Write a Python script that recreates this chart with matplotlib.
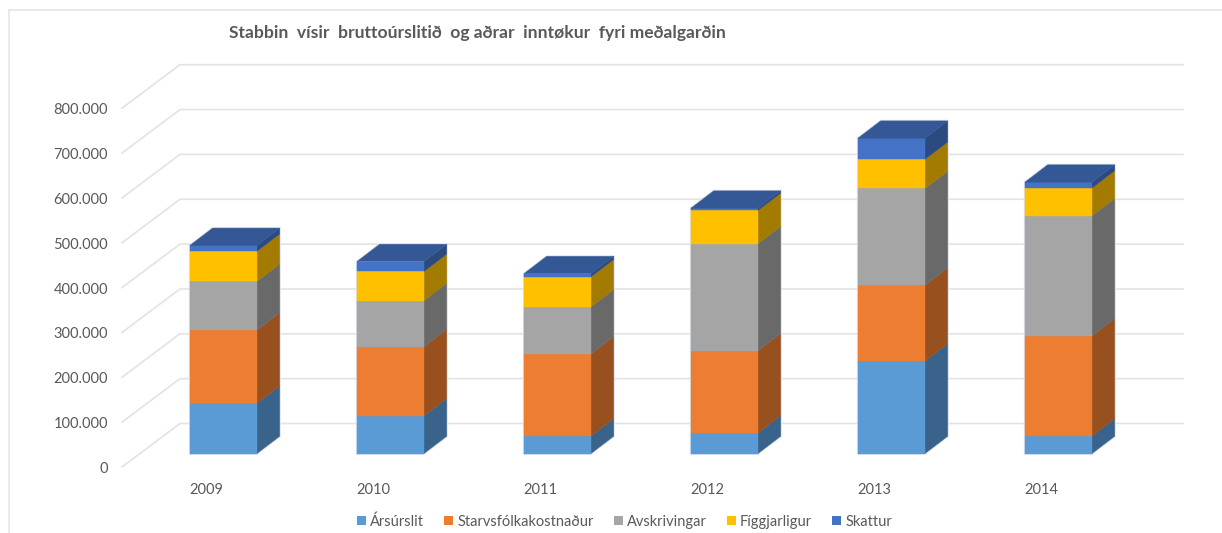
import numpy as np
from matplotlib import pyplot as plt
from matplotlib.patches import Polygon, Patch

plt.rcParams['font.family'] = ['Lato', 'DejaVu Sans']

years = ['2009', '2010', '2011', '2012', '2013', '2014']
series = ['Ársúrslit', 'Starvsfólkakostnaður', 'Avskrivingar', 'Fíggjarligur', 'Skattur']

arsurslit = [112000, 84000, 39000, 46000, 206000, 39000]
starvsfolk = [163000, 154000, 183000, 183000, 169000, 223000]
avskrivingar = [109000, 103000, 105000, 239000, 216000, 268000]
figgjarligur = [67000, 65000, 67000, 74000, 65000, 62000]
skattur = [13000, 22000, 7000, 5000, 47000, 13000]

yticks = [0, 100000, 200000, 300000, 400000, 500000, 600000, 700000, 800000]
ylabels = ['0', '100.000', '200.000', '300.000', '400.000', '500.000', '600.000', '700.000', '800.000']

front_colors = ['#5b9bd5', '#ed7d31', '#a5a5a5', '#ffc000', '#4472c4']
side_colors = ['#39638a', '#98501f', '#696969', '#a37b00', '#2b4a80']
top_color = '#345895'

W, H = 1222, 533
px_x = 167.0       # pixels between two categories
px_y = 44.85e-5    # pixels for one unit of value
x0, y0 = 223.5, 453.5  # pixel of first bar centre / of value 0 on the bar fronts

# everything below is in data units, offsets converted from pixels
half = 33.5 / px_x
bar_dx = 22.7 / px_x
bar_dy = 17.3 / px_y
wall_front = (122 - x0) / px_x
wall_back = (180 - x0) / px_x
wall_right = (1183 - x0) / px_x
front_off = -13.5 / px_y
back_off = 30.0 / px_y
label_off = -2.0 / px_y

fig = plt.figure(figsize=(W / 100, H / 100), dpi=100)
ax = fig.add_axes([0, 0, 1, 1])
ax.set_xlim(-x0 / px_x, (W - x0) / px_x)
ax.set_ylim(-(H - y0) / px_y, y0 / px_y)
ax.axis('off')

# chart frame
ax.plot([(9 - x0) / px_x, (9 - x0) / px_x], [-(H - y0) / px_y, (y0 - 10.5) / px_y], color='#e6e6e6', lw=1.2)
ax.plot([(9 - x0) / px_x, (W - x0) / px_x], [(y0 - 10.5) / px_y, (y0 - 10.5) / px_y], color='#e6e6e6', lw=1.2)

# gridlines on the floor/wall
for v, lab in zip(yticks, ylabels):
    ax.plot([wall_front, wall_back, wall_right], [v + front_off, v + back_off, v + back_off],
            color='#e3e3e3', lw=1.2, solid_joinstyle='miter', zorder=1)
    ax.text((108 - x0) / px_x, v + front_off + label_off, lab, ha='right', va='center', fontsize=10.5, color='#595959')

values = np.array([arsurslit, starvsfolk, avskrivingar, figgjarligur, skattur])
tops = np.cumsum(values, axis=0)
bottoms = tops - values

for i, year in enumerate(years):
    xl, xr = i - half, i + half
    total = tops[-1, i]
    # pale outline round the whole box
    ax.add_patch(Polygon([(xl, 0), (xr, 0), (xr + bar_dx, bar_dy), (xr + bar_dx, total + bar_dy),
                          (xl + bar_dx, total + bar_dy), (xl, total)],
                         closed=True, fc='none', ec='#dde3ee', lw=1.6, zorder=2))
    for s in range(len(series)):
        b, t = bottoms[s, i], tops[s, i]
        ax.add_patch(Polygon([(xr, b), (xr + bar_dx, b + bar_dy), (xr + bar_dx, t + bar_dy), (xr, t)],
                             closed=True, fc=side_colors[s], ec=side_colors[s], lw=0.3, zorder=3))
        ax.add_patch(Polygon([(xl, b), (xr, b), (xr, t), (xl, t)],
                             closed=True, fc=front_colors[s], ec=front_colors[s], lw=0.3, zorder=3))
    ax.add_patch(Polygon([(xl, total), (xr, total), (xr + bar_dx, total + bar_dy), (xl + bar_dx, total + bar_dy)],
                         closed=True, fc=top_color, ec=top_color, lw=0.3, zorder=3))
    ax.text(i - 17 / px_x, -(488 - y0) / px_y + label_off, year, ha='center', va='center', fontsize=10.5, color='#595959')

ax.text((477.5 - x0) / px_x, (y0 - 33) / px_y, 'Stabbin  vísir  bruttoúrslitið  og aðrar  inntøkur  fyri meðalgarðin',
        ha='center', va='center', fontsize=12.6, fontweight='bold', color='#595959')

handles = [Patch(fc=c, ec='none') for c in front_colors]
fig.legend(handles, series, ncol=5, loc='center', bbox_to_anchor=(624.5 / W, 1 - 521.5 / H), frameon=False,
           fontsize=10.5, labelcolor='#595959', handlelength=0.62, handleheight=0.62,
           handletextpad=0.3, columnspacing=1.35, borderpad=0, borderaxespad=0)

fig.savefig('out.png', dpi=100)
